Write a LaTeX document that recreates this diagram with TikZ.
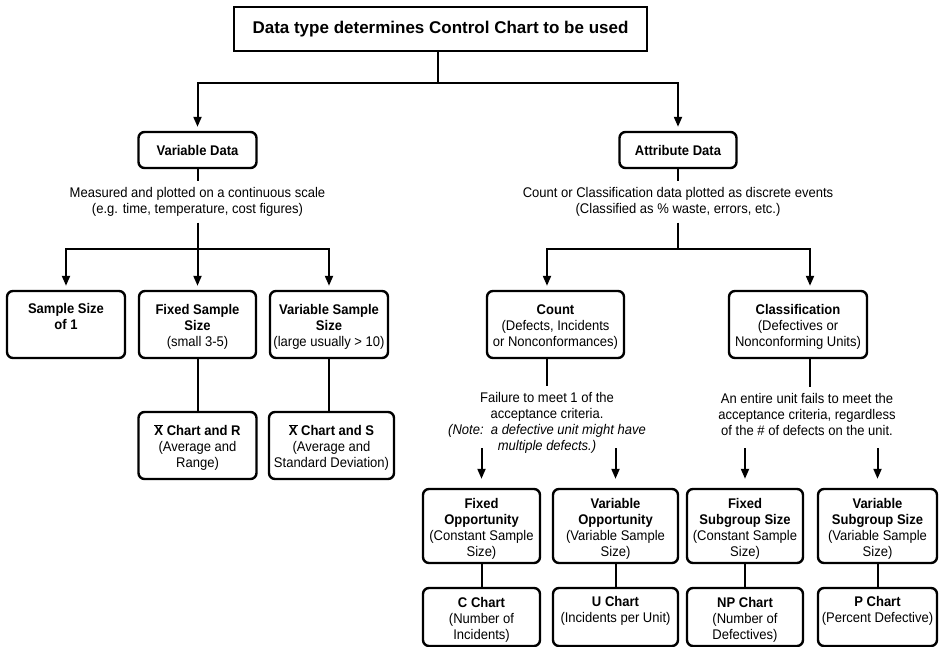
\documentclass[tikz,border=0pt]{standalone}
\usepackage{fontspec}
\setmainfont{Liberation Sans}[FakeStretch=0.93]
\newfontfamily\titlefamily{Liberation Sans}
\usetikzlibrary{arrows.meta}

\newcommand\bodyfont{\fontsize{14}{16}\selectfont}
\newcommand\titlefont{\titlefamily\fontsize{17}{20}\selectfont\bfseries}
\newcommand\xbar{\ensuremath{\overline{\mbox{X}}}}
% extra height on a box's first line, so its text sits a little lower
\newcommand\lift{\rule{0pt}{15.5pt}}

\begin{document}
\begin{tikzpicture}[x=1pt,y=-1pt,
  every node/.style={font=\bodyfont},
  rbox/.style={draw, line width=2.4pt, rounded corners=6pt, align=center,
               inner sep=0pt, minimum width=118pt},
  tbox/.style={draw, line width=2pt, inner sep=0pt, font=\titlefont,
               minimum width=413pt, minimum height=44pt},
  note/.style={align=center, inner xsep=0pt, inner ysep=6pt},
  link/.style={line width=2pt},
  arr/.style={link, -{Triangle[length=10pt,width=8pt]}, shorten >=4pt},
]
\useasboundingbox (0,0) rectangle (939,647);

% title
\node[tbox] (top) at (440.5,29) {Data type determines Control Chart to be used};

% data kinds
\node[rbox, minimum height=36pt] (vd) at (197.5,150) {\textbf{Variable Data}};
\node[rbox, minimum width=117pt, minimum height=36pt] (ad) at (678,150) {\textbf{Attribute Data}};
\node[note] (vdtext) at (197.5,202) {Measured and plotted on a continuous scale\\(e.g. time, temperature, cost figures)};
\node[note] (adtext) at (678,202) {Count or Classification data plotted as discrete events\\(Classified as \% waste, errors, etc.)};

% variable data branch
\node[rbox, minimum height=67pt] (s1) at (66,324.5) {\lift\textbf{Sample Size}\\\textbf{of 1}\\\strut};
\node[rbox, minimum width=117pt, minimum height=67pt] (fs) at (197.5,324.5) {\lift\textbf{Fixed Sample}\\\textbf{Size}\\(small 3-5)};
\node[rbox, minimum height=67pt] (vs) at (329,324.5) {\lift\textbf{Variable Sample}\\\textbf{Size}\\(large usually > 10)};
\node[rbox, minimum height=67pt] (xr) at (197.5,445.5) {\lift\textbf{\xbar\ Chart and R}\\(Average and\\Range)};
\node[rbox, minimum width=125pt, minimum height=67pt] (xs) at (331.5,445.5) {\lift\textbf{\xbar\ Chart and S}\\(Average and\\Standard Deviation)};

% attribute data branch
\node[rbox, minimum width=137pt, minimum height=67pt] (count) at (555.5,324.5) {\lift\textbf{Count}\\(Defects, Incidents\\or Nonconformances)};
\node[rbox, minimum width=138pt, minimum height=67pt] (cls) at (798,324.5) {\lift\textbf{Classification}\\(Defectives or\\Nonconforming Units)};
\node[note] (ctext) at (547,422.5) {Failure to meet 1 of the\\acceptance criteria.\\\textit{(Note:\ \ a defective unit might have}\\\textit{multiple defects.)}};
\node[note] (cltext) at (807,414.5) {An entire unit fails to meet the\\acceptance criteria, regardless\\of the \# of defects on the unit.};

\node[rbox, minimum width=117pt, minimum height=74pt] (fo) at (481.5,526) {\lift\textbf{Fixed}\\\textbf{Opportunity}\\(Constant Sample\\Size)};
\node[rbox, minimum width=125pt, minimum height=74pt] (vo) at (615.5,526) {\lift\textbf{Variable}\\\textbf{Opportunity}\\(Variable Sample\\Size)};
\node[rbox, minimum width=116pt, minimum height=74pt] (fsg) at (745,526) {\lift\textbf{Fixed}\\\textbf{Subgroup Size}\\(Constant Sample\\Size)};
\node[rbox, minimum width=119pt, minimum height=74pt] (vsg) at (877.5,526) {\lift\textbf{Variable}\\\textbf{Subgroup Size}\\(Variable Sample\\Size)};

\node[rbox, minimum width=117pt, minimum height=58pt] (cc) at (481.5,617) {\lift\textbf{C Chart}\\(Number of\\Incidents)};
\node[rbox, minimum width=125pt, minimum height=58pt] (uc) at (615.5,617) {\lift\textbf{U Chart}\\(Incidents per Unit)\\\strut};
\node[rbox, minimum width=116pt, minimum height=58pt] (npc) at (745,617) {\lift\textbf{NP Chart}\\(Number of\\Defectives)};
\node[rbox, minimum width=119pt, minimum height=58pt] (pc) at (877.5,617) {\lift\textbf{P Chart}\\(Percent Defective)\\\strut};

% connectors
\coordinate (hub) at (438,83);
\draw[link] (top.south -| hub) -- (hub);
\draw[arr] (hub) -| (vd.north);
\draw[arr] (hub) -| (ad.north);

\coordinate (vsplit) at (197.5,249);
\draw[link] (vd.south) -- (vdtext.north);
\draw[link] (vdtext.south) -- (vsplit);
\draw[arr] (vsplit) -| (s1.north);
\draw[arr] (vsplit) -- (fs.north);
\draw[arr] (vsplit) -| (vs.north);
\draw[link] (fs.south) -- (xr.north);
\draw[link] (vs.south) -- (vs.south |- xs.north);

\coordinate (asplit) at (678,249);
\draw[link] (ad.south) -- (adtext.north);
\draw[link] (adtext.south) -- (asplit);
\draw[arr] (asplit) -| ([xshift=-8.5pt]count.north);
\draw[arr] (asplit) -| ([xshift=12pt]cls.north);
\draw[link] ([xshift=-8.5pt]count.south) -- (ctext.north);
\draw[link] ([xshift=12pt]cls.south) -- ([xshift=12pt]cls.south |- cltext.north);

\coordinate (drop) at (0,448);
\foreach \b in {fo,vo,fsg,vsg}
  \draw[arr, shorten >=9pt] (\b.north |- drop) -- (\b.north);
\draw[link] (fo.south) -- (cc.north);
\draw[link] (vo.south) -- (uc.north);
\draw[link] (fsg.south) -- (npc.north);
\draw[link] (vsg.south) -- (pc.north);
\end{tikzpicture}
\end{document}
